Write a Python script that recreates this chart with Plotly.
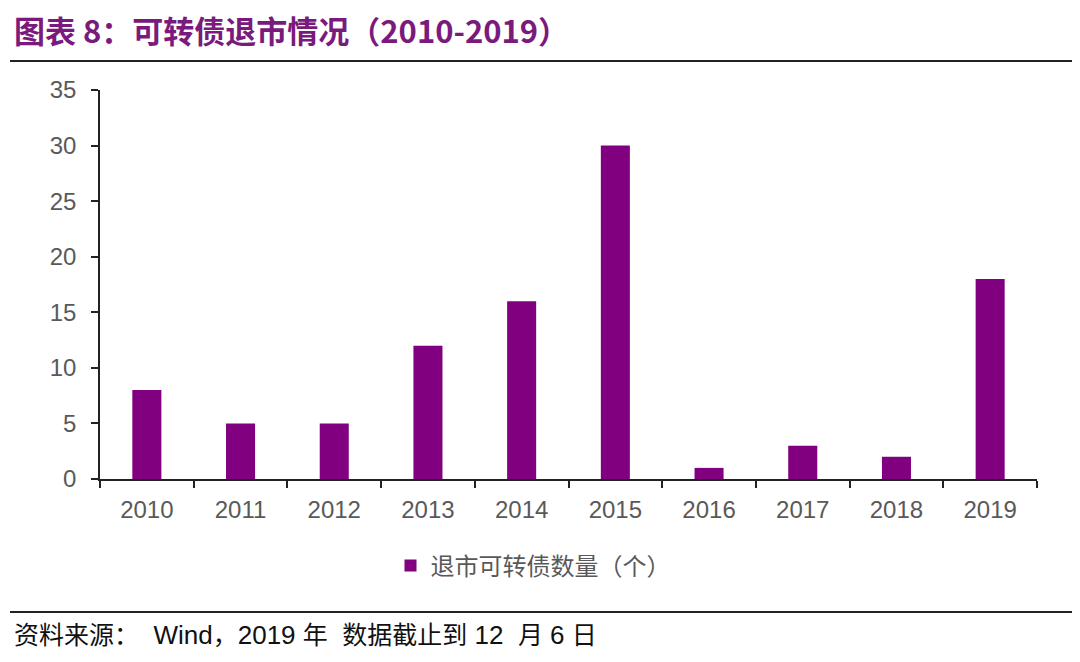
import plotly.graph_objects as go

years = ["2010", "2011", "2012", "2013", "2014", "2015", "2016", "2017", "2018", "2019"]
delisted = [8, 5, 5, 12, 16, 30, 1, 3, 2, 18]
y_ticks = [0, 5, 10, 15, 20, 25, 30, 35]
series_name = "退市可转债数量（个）"
title_text = "图表 8：可转债退市情况（2010-2019）"


def latin(s):
    return "<span style='font-family:Liberation Sans;font-size:26px'>" + s + "</span>"


source_text = ("资料来源：" + latin("&nbsp;&nbsp;Wind") + "，" + latin("2019&nbsp;") + "年"
               + latin("&nbsp;&nbsp;") + "数据截止到" + latin("&nbsp;12&nbsp;&nbsp;") + "月"
               + latin("&nbsp;6&nbsp;") + "日")

OFF = 8  # page body margin
W, H = 1080 - OFF, 662 - OFF
L, R, T, B = 100 - OFF, 1037 - OFF, 90 - OFF, 479 - OFF
pw, ph = R - L, B - T


def px(x):
    return (x - OFF - L) / pw


def py(y):
    return (B - (y - OFF)) / ph


fig = go.Figure()
fig.add_trace(go.Bar(
    x=years, y=delisted, name=series_name,
    marker=dict(color="#800080", line=dict(width=0)),
    width=0.31,
))

fig.update_layout(
    width=W, height=H,
    margin=dict(l=L, r=W - R, t=T, b=H - B, pad=0),
    plot_bgcolor="white", paper_bgcolor="white",
    showlegend=True,
    legend=dict(orientation="h", x=px(533), xanchor="center", y=py(566), yanchor="middle",
                font=dict(family="Noto Sans CJK SC, Liberation Sans", size=24, color="#595959"),
                itemsizing="constant", bgcolor="rgba(0,0,0,0)"),
    title=dict(text="<b>" + title_text + "</b>", x=(14 - OFF) / W, xanchor="left", xref="container",
               y=1 - (32 - OFF) / H, yanchor="middle", yref="container",
               font=dict(family="Noto Sans CJK SC, Liberation Sans", size=31, color="#7a1a7d")),
)

fig.update_xaxes(
    type="category", tickson="boundaries", ticks="outside", ticklen=7, tickwidth=1.5,
    tickcolor="#222", showline=True, linecolor="#222", linewidth=1.5, showgrid=False,
    tickfont=dict(family="Liberation Sans, Arial", size=24, color="#595959"),
    ticklabelstandoff=8, range=[-0.5, 9.5],
)
fig.update_yaxes(
    range=[0, 35], tickvals=y_ticks, ticks="outside", ticklen=7, tickwidth=1.5,
    tickcolor="#222", showline=True, linecolor="#222", linewidth=1.5, showgrid=False,
    zeroline=False,
    tickfont=dict(family="Liberation Sans, Arial", size=24, color="#595959"),
    ticklabelstandoff=10,
)

fig.add_shape(type="line", xref="paper", yref="paper", x0=px(10), x1=px(1075), y0=py(61), y1=py(61),
              line=dict(color="#222", width=2))
fig.add_shape(type="line", xref="paper", yref="paper", x0=px(10), x1=px(1075), y0=py(612), y1=py(612),
              line=dict(color="#222", width=2))
fig.add_annotation(text=source_text, xref="paper", yref="paper", x=px(12), xanchor="left",
                   y=py(633), yanchor="middle", showarrow=False,
                   font=dict(family="Noto Sans CJK SC, Liberation Sans", size=25, color="#111"))

fig.write_html("out.html")
